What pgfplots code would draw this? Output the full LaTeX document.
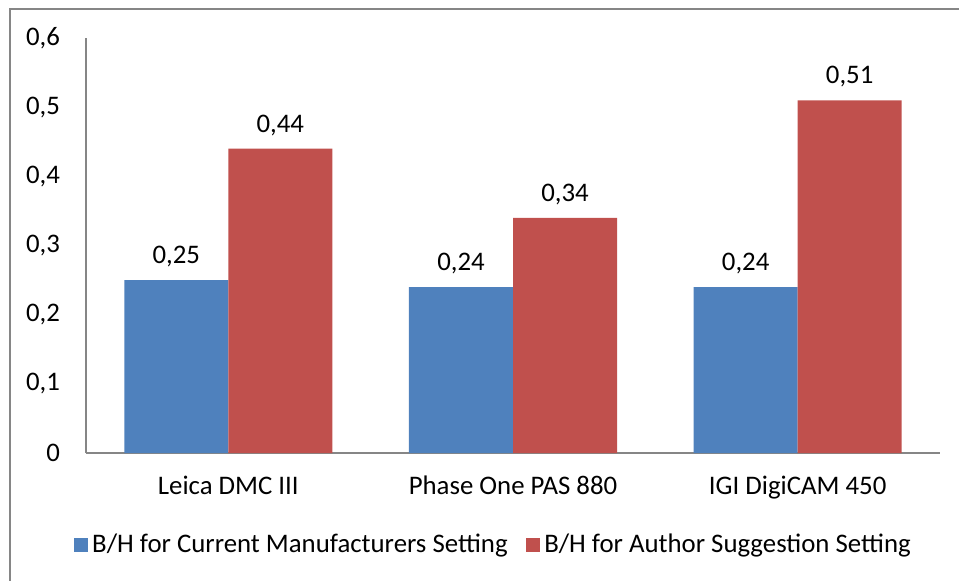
\documentclass[border=0pt]{standalone}
\usepackage{pgfplots}
\pgfplotsset{compat=1.18}
\usepackage{fontspec}
\setmainfont{Carlito}
\definecolor{cblue}{HTML}{4F81BD}
\definecolor{cred}{HTML}{C0504D}
\definecolor{axgray}{HTML}{868686}
\begin{document}
\begin{tikzpicture}[font=\fontsize{13.4pt}{16pt}\selectfont]
\useasboundingbox (0,0) rectangle (479.5pt,290pt);
\draw[axgray, line width=0.8pt] (5pt,-10pt) rectangle (490pt,285.5pt);
\begin{axis}[
  at={(43pt,63.5pt)}, anchor=south west,
  scale only axis, width=427pt, height=207.5pt,
  xmin=-0.5, xmax=2.5, ymin=0, ymax=0.6,
  axis x line*=bottom, axis y line*=left,
  axis line style={axgray, line width=0.6pt, -},
  major tick length=0pt,
  xtick={0,1,2},
  xticklabels={Leica DMC III, Phase One PAS 880, IGI DigiCAM 450},
  ytick={0,0.1,0.2,0.3,0.4,0.5,0.6},
  yticklabel style={xshift=-9.5pt},
  xticklabel style={yshift=-8pt},
  /pgf/number format/assume math mode=true,
  /pgf/number format/use comma,
  ybar=0pt, bar width=52pt,
  nodes near coords,
  nodes near coords style={/pgf/number format/fixed, /pgf/number format/precision=2, /pgf/number format/fixed zerofill, yshift=3pt},
  legend columns=2,
  legend style={at={(0.478,-0.222)}, anchor=center, draw=none, fill=none,
    /tikz/every even column/.append style={column sep=7pt}},
  legend image code/.code={\fill[#1] (0pt,-3.6pt) rectangle (7.3pt,3.7pt);},
]
\addplot[fill=cblue, draw=none] coordinates {(0,0.25) (1,0.24) (2,0.24)};
\addplot[fill=cred, draw=none] coordinates {(0,0.44) (1,0.34) (2,0.51)};
\legend{B/H for Current Manufacturers Setting, B/H for Author Suggestion Setting}
\end{axis}
\end{tikzpicture}
\end{document}
